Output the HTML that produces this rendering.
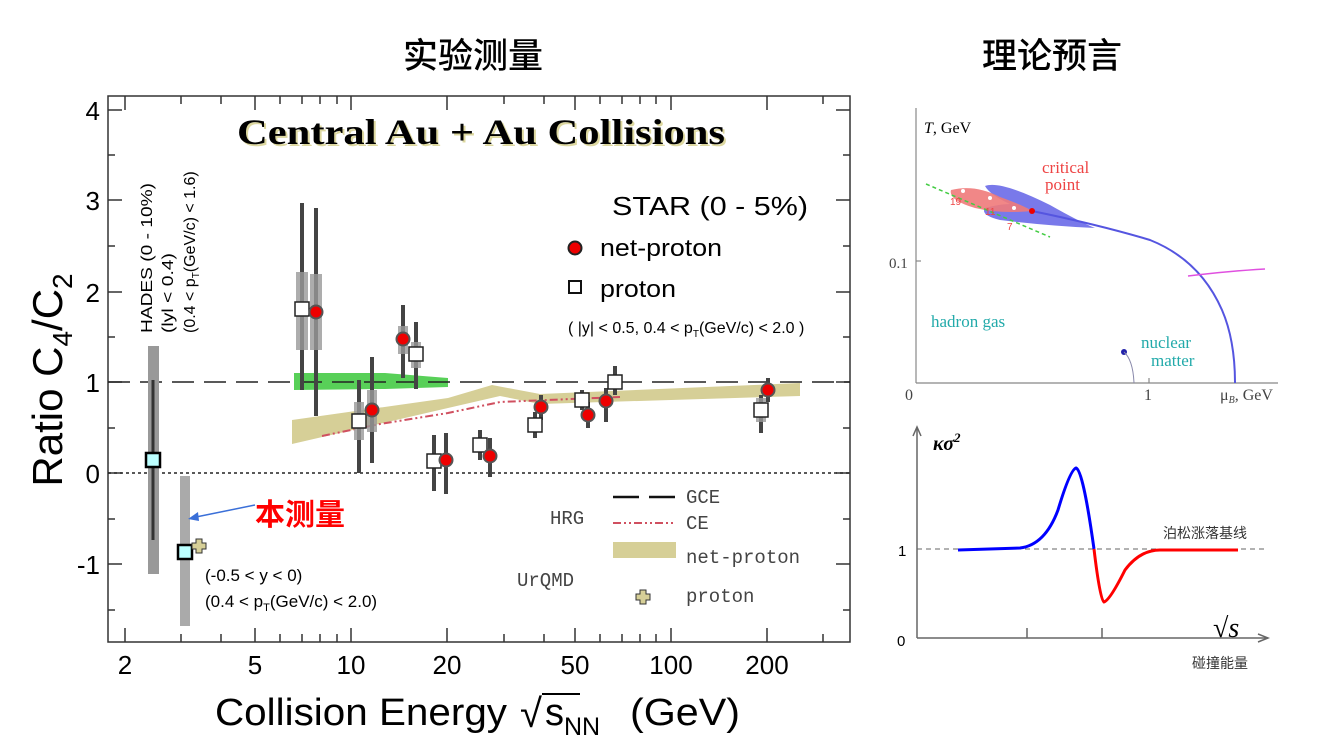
<!DOCTYPE html>
<html><head><meta charset="utf-8"><style>
html,body{margin:0;padding:0;background:#fff;width:1332px;height:749px;overflow:hidden}
svg{display:block}
text{font-family:"Liberation Sans","Noto Sans CJK SC",sans-serif}
.m{font-family:"Liberation Mono",monospace;fill:#444}
.s{font-family:"Liberation Serif",serif}
</style></head><body>
<svg width="1332" height="749" viewBox="0 0 1332 749" xmlns="http://www.w3.org/2000/svg">
<text x="473" y="68" font-size="35" text-anchor="middle" font-weight="500">实验测量</text>
<text x="1052" y="68" font-size="35" text-anchor="middle" font-weight="500">理论预言</text>

<rect x="108" y="96" width="742" height="546" fill="none" stroke="#333" stroke-width="1.5"/>
<g stroke="#333" stroke-width="1.5">
<line x1="108" y1="110" x2="122" y2="110"/><line x1="836" y1="110" x2="850" y2="110"/>
<line x1="108" y1="200" x2="122" y2="200"/><line x1="836" y1="200" x2="850" y2="200"/>
<line x1="108" y1="292" x2="122" y2="292"/><line x1="836" y1="292" x2="850" y2="292"/>
<line x1="108" y1="382" x2="122" y2="382"/><line x1="836" y1="382" x2="850" y2="382"/>
<line x1="108" y1="473" x2="122" y2="473"/><line x1="836" y1="473" x2="850" y2="473"/>
<line x1="108" y1="564" x2="122" y2="564"/><line x1="836" y1="564" x2="850" y2="564"/>
<line x1="108" y1="155" x2="115" y2="155"/><line x1="843" y1="155" x2="850" y2="155"/>
<line x1="108" y1="246" x2="115" y2="246"/><line x1="843" y1="246" x2="850" y2="246"/>
<line x1="108" y1="337" x2="115" y2="337"/><line x1="843" y1="337" x2="850" y2="337"/>
<line x1="108" y1="428" x2="115" y2="428"/><line x1="843" y1="428" x2="850" y2="428"/>
<line x1="108" y1="519" x2="115" y2="519"/><line x1="843" y1="519" x2="850" y2="519"/>
<line x1="108" y1="610" x2="115" y2="610"/><line x1="843" y1="610" x2="850" y2="610"/>
</g>
<g stroke="#333" stroke-width="1.5">
<line x1="125" y1="642" x2="125" y2="628"/><line x1="125" y1="96" x2="125" y2="110"/>
<line x1="181" y1="642" x2="181" y2="634"/><line x1="181" y1="96" x2="181" y2="104"/>
<line x1="221" y1="642" x2="221" y2="634"/><line x1="221" y1="96" x2="221" y2="104"/>
<line x1="255" y1="642" x2="255" y2="628"/><line x1="255" y1="96" x2="255" y2="110"/>
<line x1="280" y1="642" x2="280" y2="634"/><line x1="280" y1="96" x2="280" y2="104"/>
<line x1="302" y1="642" x2="302" y2="634"/><line x1="302" y1="96" x2="302" y2="104"/>
<line x1="320" y1="642" x2="320" y2="634"/><line x1="320" y1="96" x2="320" y2="104"/>
<line x1="337" y1="642" x2="337" y2="634"/><line x1="337" y1="96" x2="337" y2="104"/>
<line x1="351" y1="642" x2="351" y2="628"/><line x1="351" y1="96" x2="351" y2="110"/>
<line x1="447" y1="642" x2="447" y2="628"/><line x1="447" y1="96" x2="447" y2="110"/>
<line x1="504" y1="642" x2="504" y2="634"/><line x1="504" y1="96" x2="504" y2="104"/>
<line x1="544" y1="642" x2="544" y2="634"/><line x1="544" y1="96" x2="544" y2="104"/>
<line x1="575" y1="642" x2="575" y2="628"/><line x1="575" y1="96" x2="575" y2="110"/>
<line x1="600" y1="642" x2="600" y2="634"/><line x1="600" y1="96" x2="600" y2="104"/>
<line x1="622" y1="642" x2="622" y2="634"/><line x1="622" y1="96" x2="622" y2="104"/>
<line x1="640" y1="642" x2="640" y2="634"/><line x1="640" y1="96" x2="640" y2="104"/>
<line x1="656" y1="642" x2="656" y2="634"/><line x1="656" y1="96" x2="656" y2="104"/>
<line x1="671" y1="642" x2="671" y2="628"/><line x1="671" y1="96" x2="671" y2="110"/>
<line x1="767" y1="642" x2="767" y2="628"/><line x1="767" y1="96" x2="767" y2="110"/>
<line x1="823" y1="642" x2="823" y2="634"/><line x1="823" y1="96" x2="823" y2="104"/>
</g>
<g font-size="26" text-anchor="end">
<text x="100" y="120">4</text><text x="100" y="210">3</text><text x="100" y="302">2</text>
<text x="100" y="392">1</text><text x="100" y="483">0</text><text x="100" y="574">-1</text>
</g>
<g font-size="26" text-anchor="middle">
<text x="125" y="674">2</text><text x="255" y="674">5</text><text x="351" y="674">10</text>
<text x="447" y="674">20</text><text x="575" y="674">50</text><text x="671" y="674">100</text><text x="767" y="674">200</text>
</g>
<text transform="translate(62,380) rotate(-90)" font-size="42" text-anchor="middle">Ratio C<tspan font-size="28" dy="10">4</tspan><tspan dy="-10">/C</tspan><tspan font-size="28" dy="10">2</tspan></text>
<text x="215" y="725" font-size="38" textLength="292" lengthAdjust="spacingAndGlyphs">Collision Energy</text>
<text x="520" y="727" font-size="40">√</text>
<line x1="542" y1="694" x2="580" y2="694" stroke="#000" stroke-width="2"/>
<text x="545" y="725" font-size="38">s<tspan font-size="25" dy="10">NN</tspan></text>
<text x="630" y="725" font-size="38" textLength="110" lengthAdjust="spacingAndGlyphs">(GeV)</text>

<text x="483" y="146" class="s" font-size="36" font-weight="bold" text-anchor="middle" fill="#ddd8a0" textLength="488" lengthAdjust="spacingAndGlyphs">Central Au + Au Collisions</text>
<text x="481" y="144" class="s" font-size="36" font-weight="bold" text-anchor="middle" textLength="488" lengthAdjust="spacingAndGlyphs">Central Au + Au Collisions</text>

<polygon points="292,420 448,398 492,385 540,394 800,383 800,396 540,404 500,396 448,408 292,444" fill="#d6cf97"/>
<polygon points="294,373 385,373 448,378 448,387 385,389 294,390" fill="#58d058"/>
<line x1="108" y1="382" x2="850" y2="382" stroke="#222" stroke-width="1.5" stroke-dasharray="22,10"/>
<line x1="108" y1="473" x2="850" y2="473" stroke="#222" stroke-width="1.5" stroke-dasharray="3,3"/>
<polyline points="322,436 380,424 448,413 500,402 620,397" fill="none" stroke="#d05060" stroke-width="2" stroke-dasharray="8,3,2,3,2,3"/>

<rect x="148" y="346" width="11" height="228" fill="#999"/>
<line x1="153" y1="380" x2="153" y2="540" stroke="#333" stroke-width="3"/>
<rect x="146" y="453" width="14" height="14" fill="#bff" stroke="#000" stroke-width="2.5"/>
<rect x="180" y="476" width="10" height="150" fill="#aaa"/>
<rect x="178" y="545" width="14" height="14" fill="#bff" stroke="#000" stroke-width="2.5"/>
<path d="M196,539h6v4h4v6h-4v4h-6v-4h-4v-6h4z" fill="#d6cf97" stroke="#333" stroke-width="1"/>

<g stroke="#444" stroke-width="4">
<line x1="302" y1="203" x2="302" y2="390"/><line x1="316" y1="208" x2="316" y2="416"/>
<line x1="359" y1="380" x2="359" y2="473"/><line x1="372" y1="357" x2="372" y2="463"/>
<line x1="403" y1="305" x2="403" y2="378"/><line x1="416" y1="322" x2="416" y2="389"/>
<line x1="434" y1="435" x2="434" y2="491"/><line x1="446" y1="433" x2="446" y2="494"/>
<line x1="480" y1="430" x2="480" y2="460"/><line x1="490" y1="438" x2="490" y2="477"/>
<line x1="535" y1="412" x2="535" y2="438"/><line x1="541" y1="395" x2="541" y2="420"/>
<line x1="582" y1="390" x2="582" y2="410"/><line x1="588" y1="402" x2="588" y2="428"/>
<line x1="615" y1="366" x2="615" y2="395"/><line x1="606" y1="388" x2="606" y2="422"/>
<line x1="761" y1="395" x2="761" y2="433"/><line x1="768" y1="378" x2="768" y2="402"/>
</g>
<g fill="#999" opacity="0.8">
<rect x="296" y="272" width="12" height="78"/><rect x="310" y="274" width="12" height="76"/>
<rect x="354" y="402" width="10" height="38"/><rect x="367" y="390" width="10" height="42"/>
<rect x="398" y="326" width="10" height="28"/><rect x="411" y="342" width="10" height="26"/>
<rect x="529" y="418" width="10" height="14"/><rect x="756" y="398" width="10" height="24"/>
</g>
<g fill="#fff" stroke="#222" stroke-width="1.5">
<rect x="295" y="302" width="14" height="14"/><rect x="352" y="414" width="14" height="14"/>
<rect x="409" y="347" width="14" height="14"/><rect x="427" y="454" width="14" height="14"/>
<rect x="473" y="438" width="14" height="14"/><rect x="528" y="418" width="14" height="14"/>
<rect x="575" y="393" width="14" height="14"/><rect x="608" y="375" width="14" height="14"/>
<rect x="754" y="403" width="14" height="14"/>
</g>
<g fill="#e00" stroke="#555" stroke-width="2">
<circle cx="316" cy="312" r="6.5"/><circle cx="372" cy="410" r="6.5"/><circle cx="403" cy="339" r="6.5"/>
<circle cx="446" cy="460" r="6.5"/><circle cx="490" cy="456" r="6.5"/><circle cx="541" cy="407" r="6.5"/>
<circle cx="588" cy="415" r="6.5"/><circle cx="606" cy="401" r="6.5"/><circle cx="768" cy="390" r="6.5"/>
</g>

<text x="612" y="215" font-size="26" textLength="196" lengthAdjust="spacingAndGlyphs">STAR (0 - 5%)</text>
<circle cx="575" cy="248" r="6.5" fill="#e00" stroke="#222" stroke-width="2"/>
<text x="600" y="256" font-size="24" textLength="122" lengthAdjust="spacingAndGlyphs">net-proton</text>
<rect x="569" y="281" width="12" height="12" fill="#fff" stroke="#111" stroke-width="2"/>
<text x="600" y="297" font-size="24" textLength="76" lengthAdjust="spacingAndGlyphs">proton</text>
<text x="568" y="333" font-size="16">( |y| &lt; 0.5,  0.4 &lt; p<tspan font-size="10" dy="4">T</tspan><tspan dy="-4">(GeV/c) &lt; 2.0 )</tspan></text>
<text x="550" y="524" class="m" font-size="19">HRG</text>
<line x1="613" y1="497" x2="676" y2="497" stroke="#111" stroke-width="2.5" stroke-dasharray="26,10"/>
<text x="686" y="503" class="m" font-size="19">GCE</text>
<line x1="613" y1="523" x2="676" y2="523" stroke="#d05060" stroke-width="2" stroke-dasharray="8,3,2,3,2,3"/>
<text x="686" y="529" class="m" font-size="19">CE</text>
<rect x="613" y="542" width="63" height="16" fill="#d6cf97"/>
<text x="686" y="563" class="m" font-size="19">net-proton</text>
<text x="517" y="586" class="m" font-size="19">UrQMD</text>
<path d="M640,590h6v4h4v6h-4v4h-6v-4h-4v-6h4z" fill="#d6cf97" stroke="#333" stroke-width="1"/>
<text x="686" y="602" class="m" font-size="19">proton</text>

<g font-size="16">
<text transform="translate(152,333) rotate(-90)" textLength="150" lengthAdjust="spacingAndGlyphs">HADES (0 - 10%)</text>
<text transform="translate(173,333) rotate(-90)" textLength="80" lengthAdjust="spacingAndGlyphs">(lyl &lt; 0.4)</text>
<text transform="translate(195,333) rotate(-90)">(0.4 &lt; p<tspan font-size="10" dy="4">T</tspan><tspan dy="-4">(GeV/c) &lt; 1.6)</tspan></text>
</g>
<text x="205" y="581" font-size="17">(-0.5 &lt; y &lt; 0)</text>
<text x="205" y="607" font-size="17">(0.4 &lt; p<tspan font-size="11" dy="4">T</tspan><tspan dy="-4">(GeV/c) &lt; 2.0)</tspan></text>
<text x="255" y="525" font-size="30" font-weight="bold" fill="#f00">本测量</text>
<line x1="255" y1="505" x2="196" y2="517" stroke="#3a6fd8" stroke-width="1.5"/>
<polygon points="188,519 198,512 199,521" fill="#3a6fd8"/>

<g stroke="#888" stroke-width="1.2" fill="none">
<line x1="916" y1="108" x2="916" y2="383"/><line x1="916" y1="383" x2="1278" y2="383"/>
<line x1="916" y1="261" x2="921" y2="261"/><line x1="1149" y1="383" x2="1149" y2="378"/>
</g>
<text x="924" y="133" class="s" font-size="16"><tspan font-style="italic">T</tspan>, GeV</text>
<text x="889" y="268" class="s" font-size="15" fill="#444">0.1</text>
<text x="905" y="400" class="s" font-size="16" fill="#444">0</text>
<text x="1144" y="400" class="s" font-size="16" fill="#444">1</text>
<text x="1220" y="400" class="s" font-size="16" fill="#444">μ<tspan font-size="10" dy="3" font-style="italic">B</tspan><tspan dy="-3">, GeV</tspan></text>
<path d="M985,186 Q1000,180 1050,205 Q1080,222 1095,228 Q1050,226 1000,220 Q980,215 985,208 Q1000,204 1010,204 Q990,195 985,186Z" fill="#6a6ae8" opacity="0.9"/>
<path d="M951,190 Q975,184 1000,197 Q1025,206 1032,211 Q1000,214 975,208 Q948,200 951,190Z" fill="#f07a7a" opacity="0.9"/>
<path d="M1032,211 Q1100,225 1150,240 Q1200,260 1222,310 Q1235,340 1235,383" fill="none" stroke="#5555e0" stroke-width="2"/>
<path d="M1188,276 Q1230,271 1265,269" fill="none" stroke="#e050e0" stroke-width="1.5"/>
<line x1="926" y1="184" x2="1050" y2="237" stroke="#4c4" stroke-width="1.5" stroke-dasharray="4,3"/>
<circle cx="1032" cy="211" r="3" fill="#e00"/>
<circle cx="963" cy="191" r="2" fill="#fff"/><circle cx="990" cy="198" r="2" fill="#fff"/><circle cx="1014" cy="208" r="2" fill="#fff"/>
<text x="950" y="205" font-size="10" fill="#e44">19</text><text x="985" y="215" font-size="10" fill="#e44">11</text><text x="1007" y="230" font-size="10" fill="#e44">7</text>
<text x="1042" y="173" class="s" font-size="17" fill="#e44">critical</text>
<text x="1045" y="190" class="s" font-size="17" fill="#e44">point</text>
<text x="931" y="327" class="s" font-size="17" fill="#2aa">hadron gas</text>
<text x="1141" y="348" class="s" font-size="17" fill="#2aa">nuclear</text>
<text x="1151" y="366" class="s" font-size="17" fill="#2aa">matter</text>
<circle cx="1124" cy="352" r="3" fill="#22a"/>
<path d="M1124,352 Q1133,360 1134,383" fill="none" stroke="#88a" stroke-width="1"/>

<g stroke="#666" stroke-width="1.5" fill="none">
<line x1="917" y1="428" x2="917" y2="638"/><line x1="917" y1="638" x2="1268" y2="638"/>
<polyline points="913,436 917,427 921,436"/><polyline points="1258,634 1268,638 1258,642"/>
<line x1="1027" y1="628" x2="1027" y2="638"/><line x1="1102" y1="628" x2="1102" y2="638"/>
</g>
<line x1="917" y1="549" x2="1268" y2="549" stroke="#666" stroke-width="1" stroke-dasharray="5,4"/>
<text x="933" y="450" class="s" font-size="20" font-style="italic" font-weight="bold">κσ<tspan font-size="13" dy="-8">2</tspan></text>
<text x="898" y="556" font-size="15">1</text><text x="897" y="646" font-size="15">0</text>
<path d="M958,550 L1020,548 Q1045,545 1058,510 Q1070,470 1076,468 Q1083,470 1094,549" fill="none" stroke="#00f" stroke-width="3"/>
<path d="M1094,549 Q1100,600 1104,602 Q1110,600 1125,570 Q1140,550 1160,550 L1238,550" fill="none" stroke="#f00" stroke-width="3"/>
<text x="1163" y="538" font-size="14" fill="#333">泊松涨落基线</text>
<text x="1213" y="637" class="s" font-size="28">√<tspan font-style="italic">s</tspan></text>
<text x="1192" y="668" font-size="14" fill="#333">碰撞能量</text>
</svg>
</body></html>
